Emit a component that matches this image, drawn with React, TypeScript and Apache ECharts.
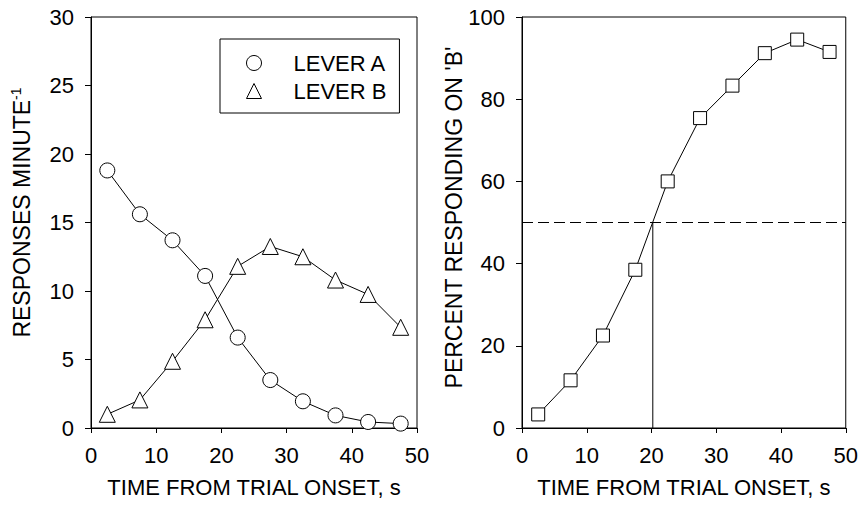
import React, { useEffect, useRef } from "react";
import * as echarts from "echarts";

const timeBins = [2.5, 7.5, 12.5, 17.5, 22.5, 27.5, 32.5, 37.5, 42.5, 47.5];
const leverA = [18.8, 15.6, 13.7, 11.1, 6.6, 3.5, 1.95, 0.92, 0.44, 0.32];
const leverB = [1.0, 2.05, 4.87, 7.9, 11.8, 13.25, 12.5, 10.8, 9.75, 7.35];
const percentB = [3.3, 11.6, 22.5, 38.5, 60.0, 75.4, 83.3, 91.2, 94.5, 91.5];
const halfLevel = 50;
const crossTime = 20.2;
const xRange = [0, 50];

const FONT = "'Liberation Sans', Arial, sans-serif";
const FS = 22;
const NAME_FS = 23;

export default function App() {
  const ref = useRef<HTMLDivElement>(null);
  useEffect(() => {
    if (!ref.current) return;
    const chart = echarts.init(ref.current, undefined, { renderer: "svg" });
    const axisCommon = {
      axisLine: { show: true, lineStyle: { color: "#000", width: 1 } },
      axisTick: { show: true, inside: false, lineStyle: { color: "#000", width: 1 } },
      splitLine: { show: false },
      axisLabel: { color: "#000", fontSize: FS, fontFamily: FONT },
      nameTextStyle: { color: "#000", fontSize: FS, fontFamily: FONT },
      nameMoveOverlap: false,
    };
    const markerStyle = { color: "#fff", borderColor: "#000", borderWidth: 1 };
    const lineStyle = { color: "#000", width: 1 };
    const xAxisBase = {
      ...axisCommon, type: "value", min: 0, max: 50, interval: 10,
      axisTick: { ...axisCommon.axisTick, length: 5 },
      axisLabel: { ...axisCommon.axisLabel, margin: 16 },
      name: "TIME FROM TRIAL ONSET, s", nameLocation: "middle", nameGap: 48,
    };
    chart.setOption({
      animation: false,
      textStyle: { fontFamily: FONT, color: "#000" },
      grid: [
        { left: 91, top: 17, width: 326, height: 411, show: true, borderColor: "#000", borderWidth: 1 },
        { left: 522, top: 17, width: 327, height: 411, show: true, borderColor: "#000", borderWidth: 1 },
      ],
      xAxis: [
        { ...xAxisBase, gridIndex: 0 },
        { ...xAxisBase, gridIndex: 1 },
      ],
      yAxis: [
        {
          ...axisCommon, type: "value", gridIndex: 0, min: 0, max: 30, interval: 5,
          axisTick: { ...axisCommon.axisTick, length: 6 },
          axisLabel: { ...axisCommon.axisLabel, margin: 17 },
          name: "{a|RESPONSES MINUTE}{s|-1}", nameLocation: "middle", nameGap: 56,
          nameTextStyle: {
            ...axisCommon.nameTextStyle,
            fontSize: NAME_FS,
            padding: [0, 0, 0, 20],
            rich: {
              a: { fontSize: NAME_FS, fontFamily: FONT, color: "#000", lineHeight: 26 },
              s: { fontSize: 14, fontFamily: FONT, color: "#000", verticalAlign: "top", lineHeight: 26 },
            },
          },
        },
        {
          ...axisCommon, type: "value", gridIndex: 1, min: 0, max: 100, interval: 20,
          axisTick: { ...axisCommon.axisTick, length: 6 },
          axisLabel: { ...axisCommon.axisLabel, margin: 17 },
          name: "PERCENT RESPONDING ON 'B'", nameLocation: "middle", nameGap: 57,
          nameTextStyle: { ...axisCommon.nameTextStyle, fontSize: NAME_FS, padding: [0, 0, 0, 10] },
        },
      ],
      legend: {
        left: 220, top: 39, orient: "vertical", itemGap: 6, itemWidth: 15, itemHeight: 15,
        padding: [13, 13, 11, 26], borderColor: "#000", borderWidth: 1, selectedMode: false,
        itemStyle: markerStyle,
        textStyle: { fontSize: FS, color: "#000", fontFamily: FONT, padding: [0, 0, 0, 27] },
        data: [
          { name: "LEVER A", icon: "circle" },
          { name: "LEVER B", icon: "triangle" },
        ],
      },
      series: [
        {
          name: "LEVER A", type: "line", xAxisIndex: 0, yAxisIndex: 0,
          data: timeBins.map((t, i) => [t, leverA[i]]),
          symbol: "circle", symbolSize: 15, itemStyle: markerStyle, lineStyle, z: 3,
        },
        {
          name: "LEVER B", type: "line", xAxisIndex: 0, yAxisIndex: 0,
          data: timeBins.map((t, i) => [t, leverB[i]]),
          symbol: "triangle", symbolSize: 16, itemStyle: markerStyle, lineStyle, z: 3,
        },
        {
          name: "50% level", type: "line", xAxisIndex: 1, yAxisIndex: 1,
          data: [[xRange[0], halfLevel], [xRange[1], halfLevel]],
          symbol: "none", lineStyle: { color: "#000", width: 1, type: [11, 5] }, z: 1,
        },
        {
          name: "crossing", type: "line", xAxisIndex: 1, yAxisIndex: 1,
          data: [[crossTime, 0], [crossTime, halfLevel]],
          symbol: "none", lineStyle: { color: "#000", width: 1 }, z: 1,
        },
        {
          name: "PERCENT B", type: "line", xAxisIndex: 1, yAxisIndex: 1,
          data: timeBins.map((t, i) => [t, percentB[i]]),
          symbol: "rect", symbolSize: 13, itemStyle: markerStyle, lineStyle, z: 3,
        },
      ],
    });
    return () => chart.dispose();
  }, []);
  return (
    <div
      ref={ref}
      style={{ position: "fixed", left: 0, top: 0, width: 861, height: 509, background: "#fff" }}
    />
  );
}
